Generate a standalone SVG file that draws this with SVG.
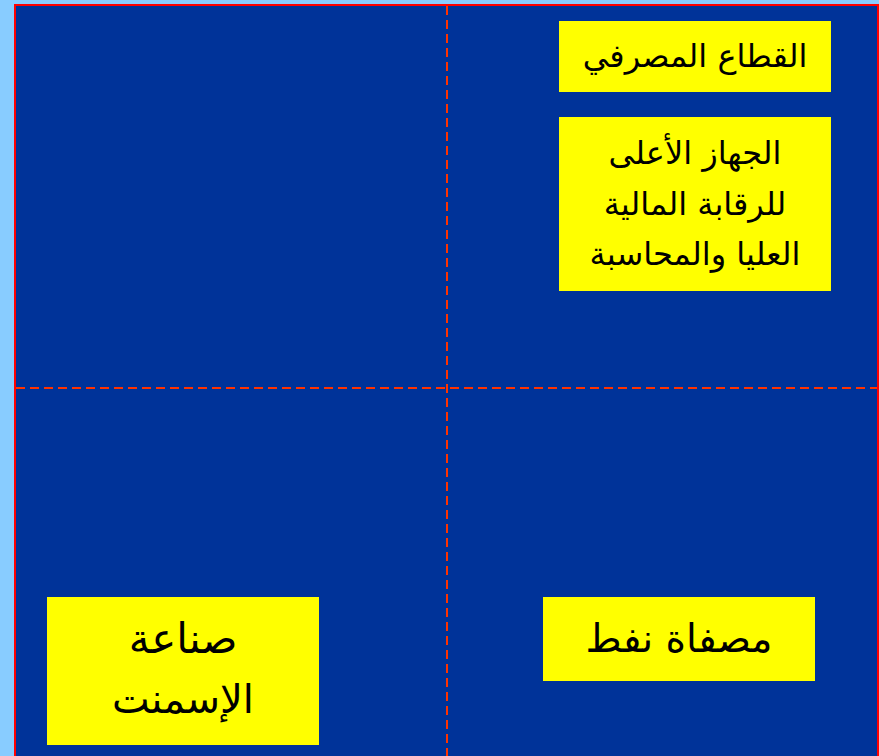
<svg xmlns="http://www.w3.org/2000/svg" width="879" height="756" viewBox="0 0 879 756">
<style>
.box{fill:#FFFF00;}
.t{font-family:"DejaVu Sans","Noto Sans",sans-serif;fill:#000;text-anchor:middle;direction:rtl;}
.div{stroke:#FF3300;stroke-width:2;stroke-dasharray:9 5;fill:none;}
</style>
<rect x="0" y="0" width="879" height="756" fill="#88CCFF"/>
<rect x="15" y="5" width="863" height="760" fill="#003399" stroke="#FF0000" stroke-width="2"/>
<g id="connectors">
<line class="div" x1="447" y1="6" x2="447" y2="756"/>
<line class="div" x1="16" y1="388" x2="877" y2="388"/>
</g>
<g id="banking">
<rect class="box" x="559" y="21" width="272" height="71"/>
<text class="t" x="695" y="67" font-size="32">القطاع المصرفي</text>
</g>
<g id="audit">
<rect class="box" x="559" y="117" width="272" height="174"/>
<text class="t" x="695" y="164" font-size="32">الجهاز الأعلى</text>
<text class="t" x="695" y="215" font-size="32">للرقابة المالية</text>
<text class="t" x="695" y="265" font-size="32">العليا والمحاسبة</text>
</g>
<g id="cement">
<rect class="box" x="47" y="597" width="272" height="148"/>
<text class="t" x="183" y="653" font-size="42">صناعة</text>
<text class="t" x="183" y="713" font-size="40">الإسمنت</text>
</g>
<g id="refinery">
<rect class="box" x="543" y="597" width="272" height="84"/>
<text class="t" x="679" y="652" font-size="39">مصفاة نفط</text>
</g>
</svg>
